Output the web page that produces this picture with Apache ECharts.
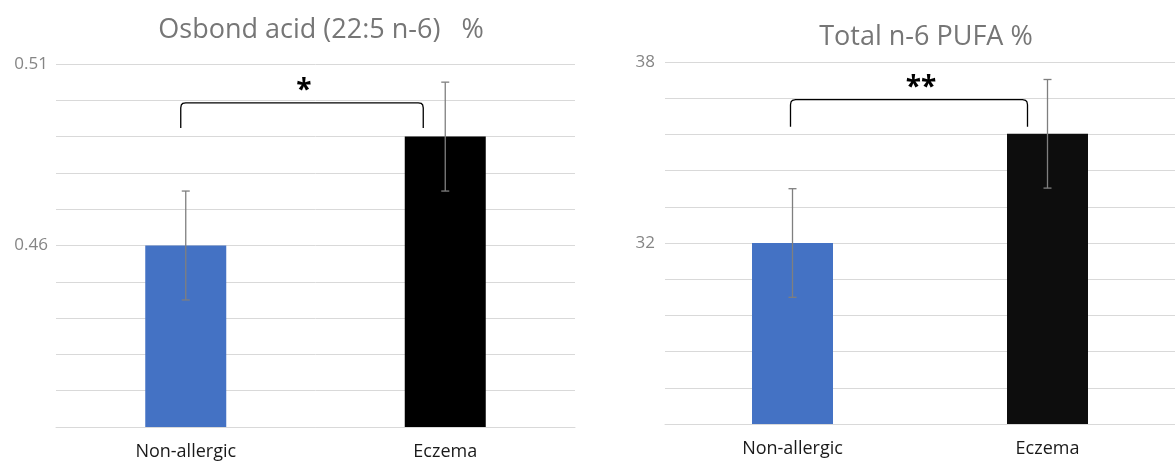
<!DOCTYPE html>
<html>
<head>
<meta charset="utf-8">
<script src="https://cdn.jsdelivr.net/npm/echarts@6/dist/echarts.min.js"></script>
<style>
  html, body { margin: 0; padding: 0; background: #fff; }
  #chart { width: 1175px; height: 464px; }
</style>
</head>
<body>
<div id="chart"></div>
<script>
// Groups compared in both panels
const categories = ['Non-allergic', 'Eczema'];

// Osbond acid (22:5 n-6), % of total fatty acids: mean and error half-width
const osbondMean = [0.46, 0.490];
const osbondErr = [0.015, 0.015];
const osbondTickLabels = [0.46, 0.51];

// Total n-6 PUFA, %: mean and error half-width
const pufaMean = [32.0, 35.62];
const pufaErr = [1.8, 1.8];
const pufaTickLabels = [32, 38];

// Significance brackets: [fromCategory, toCategory, topValue, bottomValue, marker]
const osbondBracket = [0, 1, 0.4993, 0.4924, '*'];
const pufaBracket = [0, 1, 36.75, 35.85, '**'];

const FONT = '"Open Sans", "Noto Sans", sans-serif';
const barColors = ['#4472C4', '#000000'];
const barColorsRight = ['#4472C4', '#0d0d0d'];

function tickFormatter(list) {
  return function (v) {
    for (const t of list) {
      if (Math.abs(v - t) < 1e-6) return String(t);
    }
    return '';
  };
}

function errorData(mean, err) {
  return mean.map((m, i) => [i, m - err[i], m + err[i]]);
}

function renderError(params, api) {
  const lo = api.coord([api.value(0), api.value(1)]);
  const hi = api.coord([api.value(0), api.value(2)]);
  const cap = 4;
  const style = { stroke: '#7f7f7f', lineWidth: 1.3 };
  return {
    type: 'group',
    children: [
      { type: 'line', shape: { x1: hi[0], y1: hi[1], x2: lo[0], y2: lo[1] }, style },
      { type: 'line', shape: { x1: hi[0] - cap, y1: hi[1], x2: hi[0] + cap, y2: hi[1] }, style },
      { type: 'line', shape: { x1: lo[0] - cap, y1: lo[1], x2: lo[0] + cap, y2: lo[1] }, style }
    ]
  };
}

// Square bracket with rounded corners joining two bars, marker above it
function makeBracketRenderer(leftShift, rightShift, markShift) {
  return function (params, api) {
    const a = api.coord([api.value(0), api.value(2)]);
    const b = api.coord([api.value(1), api.value(2)]);
    const yb = api.coord([api.value(0), api.value(3)])[1];
    const x0 = a[0] + leftShift, x1 = b[0] + rightShift, yt = a[1];
    const r = 5;
    const pts = [
      [x0, yb], [x0, yt + r], [x0 + 0.6, yt + 2], [x0 + 2, yt + 0.6], [x0 + r, yt],
      [x1 - r, yt], [x1 - 2, yt + 0.6], [x1 - 0.6, yt + 2], [x1, yt + r], [x1, yb]
    ];
    return {
      type: 'group',
      children: [
        { type: 'polyline', shape: { points: pts }, style: { stroke: '#000', lineWidth: 1.3, fill: null } },
        {
          type: 'text',
          style: {
            text: api.value(4),
            x: (x0 + x1) / 2 + markShift, y: yt - 12,
            textAlign: 'center', textVerticalAlign: 'middle',
            font: 'bold 28px ' + FONT, fill: '#000'
          }
        }
      ]
    };
  };
}

const grids = [
  { left: 56, top: 64, width: 519, height: 363 },
  { left: 665, top: 62, width: 521, height: 362 }
];

const gridLine = { show: true, lineStyle: { color: '#d9d9d9', width: 1 } };

const option = {
  animation: false,
  backgroundColor: '#ffffff',
  title: [
    {
      text: 'Osbond acid (22:5 n-6)   %',
      left: 316, top: 12, textAlign: 'center',
      textStyle: { fontFamily: FONT, fontSize: 27, fontWeight: 'normal', color: '#767676' }
    },
    {
      text: 'Total n-6 PUFA %',
      left: 921, top: 19, textAlign: 'center',
      textStyle: { fontFamily: FONT, fontSize: 27, fontWeight: 'normal', color: '#767676' }
    }
  ],
  grid: grids,
  xAxis: [0, 1].map(g => ({
    type: 'category',
    gridIndex: g,
    data: categories,
    axisLine: { show: true, lineStyle: { color: '#d9d9d9', width: 1 } },
    axisTick: { show: false },
    axisLabel: { fontFamily: FONT, fontSize: 18, color: '#1a1a1a', margin: 16 }
  })),
  yAxis: [
    {
      type: 'value', gridIndex: 0, min: 0.41, max: 0.51, interval: 0.01,
      axisLine: { show: false }, axisTick: { show: false },
      splitLine: gridLine,
      axisLabel: { formatter: tickFormatter(osbondTickLabels), fontFamily: FONT, fontSize: 17, color: '#858585', margin: 8 }
    },
    {
      type: 'value', gridIndex: 1, min: 26, max: 38, interval: 1.2,
      axisLine: { show: false }, axisTick: { show: false },
      splitLine: gridLine,
      axisLabel: { formatter: tickFormatter(pufaTickLabels), fontFamily: FONT, fontSize: 17, color: '#858585', margin: 10 }
    }
  ],
  series: [
    {
      type: 'bar', xAxisIndex: 0, yAxisIndex: 0, barWidth: 81,
      data: osbondMean.map((v, i) => ({ value: v, itemStyle: { color: barColors[i] } }))
    },
    {
      type: 'bar', xAxisIndex: 1, yAxisIndex: 1, barWidth: 81,
      data: pufaMean.map((v, i) => ({ value: v, itemStyle: { color: barColorsRight[i] } }))
    },
    {
      type: 'custom', xAxisIndex: 0, yAxisIndex: 0, z: 5,
      renderItem: renderError, data: errorData(osbondMean, osbondErr)
    },
    {
      type: 'custom', xAxisIndex: 1, yAxisIndex: 1, z: 5,
      renderItem: renderError, data: errorData(pufaMean, pufaErr)
    },
    {
      type: 'custom', xAxisIndex: 0, yAxisIndex: 0, z: 6,
      renderItem: makeBracketRenderer(-5, -22, 2), data: [osbondBracket]
    },
    {
      type: 'custom', xAxisIndex: 1, yAxisIndex: 1, z: 6,
      renderItem: makeBracketRenderer(-2, -20, 12), data: [pufaBracket]
    }
  ]
};

const chart = echarts.init(document.getElementById('chart'), null, { renderer: 'canvas' });
chart.setOption(option);
</script>
</body>
</html>
